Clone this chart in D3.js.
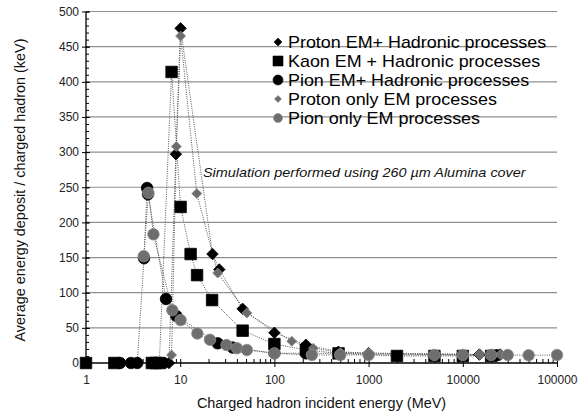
<!DOCTYPE html>
<html>
<head>
<meta charset="utf-8">
<script src="https://cdn.jsdelivr.net/npm/d3@7"></script>
<style>
  html, body { margin: 0; padding: 0; background: #fff; }
  svg { display: block; font-family: "Liberation Sans", Arial, sans-serif; }
</style>
</head>
<body>
<svg id="chart" width="580" height="415"></svg>
<script>
// Energy deposit per charged hadron vs. incident energy (log scale)
const protonEMH_E = [5, 6, 7, 7.6, 9.0, 10.1, 22, 26, 46, 100, 216, 480, 1000, 15000, 25000];
const protonEMH_D = [0, 0, 0, 0, 297, 476, 155, 133, 77, 43, 26, 16, 14, 12, 12];

const kaonEMH_E = [1, 2, 5, 5.5, 6, 8.1, 10.1, 12.9, 15.1, 21.8, 46, 100, 216, 480, 2000, 5000, 10000, 20000];
const kaonEMH_D = [0, 0, 0, 0, 0, 414, 222, 155, 125, 89.5, 46, 27, 18.5, 13.7, 10, 10, 10, 10];

const pionEMH_E = [2.3, 3.0, 3.5, 4.13, 4.45, 4.55, 7.07, 9.1, 25, 36, 100, 216, 480, 20000, 23000];
const pionEMH_D = [0, 0, 0, 149, 249, 240, 91, 67, 28, 22, 14, 13.7, 13.7, 11, 11];

const protonEM_E = [8.1, 9.1, 10.1, 15, 25, 51, 153, 259, 500, 1000, 15000, 25000];
const protonEM_D = [11.4, 308, 465, 241, 128, 71, 31, 21, 15, 14, 12, 12];

const pionEM_E = [4.1, 4.6, 5.2, 8.25, 10.1, 15.2, 20.7, 31, 40, 51, 100, 250, 500, 1000, 5000, 10000, 20000, 30000, 50000, 100000];
const pionEM_D = [152, 242, 183, 75, 61, 42, 33, 25.6, 21, 18.5, 13.7, 11.4, 11.4, 11.4, 11.4, 11.4, 11.4, 11.4, 11, 11.4];

const seriesNames = [
  "Proton EM+ Hadronic processes",
  "Kaon EM + Hadronic processes",
  "Pion EM+ Hadronic processes",
  "Proton only EM processes",
  "Pion only EM processes"
];

const xTickValues = [1, 10, 100, 1000, 10000, 100000];
const yTickValues = [0, 50, 100, 150, 200, 250, 300, 350, 400, 450, 500];

const annotation = "Simulation performed using 260 \u00b5m Alumina cover";
const xTitle = "Charged hadron incident energy (MeV)";
const yTitle = "Average energy deposit / charged hadron (keV)";

const zip = (E, D) => E.map((e, i) => ({ e, d: D[i] }));

const series = [
  { name: seriesNames[0], data: zip(protonEMH_E, protonEMH_D), shape: "diamond", fill: "#000", stroke: "#000", size: 11.5 },
  { name: seriesNames[1], data: zip(kaonEMH_E, kaonEMH_D), shape: "square", fill: "#000", stroke: "#000", size: 11.5 },
  { name: seriesNames[2], data: zip(pionEMH_E, pionEMH_D), shape: "circle", fill: "#000", stroke: "#000", size: 11.5 },
  { name: seriesNames[3], data: zip(protonEM_E, protonEM_D), shape: "diamond", fill: "#6c6c6c", stroke: "#8a8a8a", size: 10 },
  { name: seriesNames[4], data: zip(pionEM_E, pionEM_D), shape: "circle", fill: "#6e6e6e", stroke: "#8c8c8c", size: 11.5 }
];

const svg = d3.select("#chart");
const x0 = 86, x1 = 557, yTop = 11.5, yBot = 363;

const x = d3.scaleLog().domain([1, 100000]).range([x0, x1]);
const y = d3.scaleLinear().domain([0, 500]).range([yBot, yTop]);

// horizontal gridlines
svg.append("g")
  .selectAll("line")
  .data(yTickValues.filter(v => v > 0))
  .join("line")
  .attr("x1", x0).attr("x2", x1)
  .attr("y1", d => y(d)).attr("y2", d => y(d))
  .attr("stroke", "#8f8f8f").attr("stroke-width", 1.2);

// y axis: labelled major ticks outside, minor + major ticks inside
const yAxisG = svg.append("g").attr("transform", `translate(${x0},0)`);
yAxisG.call(d3.axisLeft(y).tickValues(yTickValues).tickSize(4).tickPadding(3))
  .call(g => g.select(".domain").remove());
yAxisG.append("g").call(d3.axisRight(y).tickValues(d3.range(0, 501, 10)).tickSize(3).tickFormat(""))
  .call(g => g.select(".domain").remove());
yAxisG.append("g").call(d3.axisRight(y).tickValues(yTickValues).tickSize(4).tickFormat(""))
  .call(g => g.select(".domain").remove());
yAxisG.append("line").attr("x1", 0).attr("x2", 0).attr("y1", yTop).attr("y2", yBot)
  .attr("stroke", "#000").attr("stroke-width", 1.3);

// x axis: decade ticks crossing, minor ticks pointing up
const xAxisG = svg.append("g").attr("transform", `translate(0,${yBot})`);
xAxisG.call(d3.axisBottom(x).tickValues(xTickValues).tickSize(4).tickPadding(8).tickFormat(d3.format("d")))
  .call(g => g.select(".domain").remove());
const minorX = [];
for (let p = 0; p < 5; p++) for (let k = 2; k <= 9; k++) minorX.push(k * Math.pow(10, p));
xAxisG.append("g").call(d3.axisTop(x).tickValues(minorX).tickSize(4).tickFormat(""))
  .call(g => g.select(".domain").remove());
xAxisG.append("g").call(d3.axisTop(x).tickValues(xTickValues).tickSize(4).tickFormat(""))
  .call(g => g.select(".domain").remove());
xAxisG.append("line").attr("x1", x0).attr("x2", x1).attr("y1", 0).attr("y2", 0)
  .attr("stroke", "#000").attr("stroke-width", 1.3);

svg.selectAll(".tick line").attr("stroke", "#000");
svg.selectAll(".tick text").attr("font-size", 12).attr("fill", "#222")
  .attr("font-family", "'Liberation Sans', Arial, sans-serif");

// dotted connecting lines
const line = d3.line().x(p => x(p.e)).y(p => y(p.d));
series.forEach(s => {
  svg.append("path").datum(s.data)
    .attr("d", line)
    .attr("fill", "none")
    .attr("stroke", "#555")
    .attr("stroke-width", 1)
    .attr("stroke-dasharray", "1,1.3");
});

// marker shapes
function markerPath(shape, size) {
  if (shape === "circle") return d3.symbol(d3.symbolCircle, Math.PI * (size / 2) ** 2)();
  if (shape === "square") return d3.symbol(d3.symbolSquare, size * size)();
  // diamond: square rotated 45deg, given width = size
  const h = size / 2;
  return `M0,${-h}L${h},0L0,${h}L${-h},0Z`;
}

series.forEach(s => {
  svg.append("g")
    .selectAll("path")
    .data(s.data)
    .join("path")
    .attr("d", markerPath(s.shape, s.size))
    .attr("transform", p => `translate(${x(p.e)},${y(p.d)})`)
    .attr("fill", s.fill)
    .attr("stroke", s.stroke)
    .attr("stroke-width", 0.8);
});

// legend (text slightly widened)
const legendSizes = [8, 10, 10, 7, 9];
const legend = svg.append("g").attr("transform", "translate(278,42)");
series.forEach((s, i) => {
  const row = legend.append("g").attr("transform", `translate(0,${i * 19})`);
  row.append("path").attr("d", markerPath(s.shape, legendSizes[i]))
    .attr("fill", s.fill).attr("stroke", s.stroke).attr("stroke-width", 0.6);
  row.append("text").attr("transform", "translate(10,0) scale(1.12,1)")
    .attr("dy", "0.36em")
    .attr("font-size", 16).attr("fill", "#000").text(s.name);
});

// annotation
svg.append("text").attr("transform", "translate(203,177) scale(1.11,1)")
  .attr("font-size", 13).attr("font-style", "italic").attr("fill", "#111")
  .text(annotation);

// axis titles
svg.append("text").attr("transform", `translate(${(x0 + x1) / 2 - 0},408) scale(1.03,1)`)
  .attr("text-anchor", "middle").attr("font-size", 14).attr("fill", "#111")
  .text(xTitle);
svg.append("text").attr("transform", `translate(25,190) rotate(-90)`)
  .attr("text-anchor", "middle").attr("font-size", 14.4).attr("fill", "#111")
  .text(yTitle);
</script>
</body>
</html>
